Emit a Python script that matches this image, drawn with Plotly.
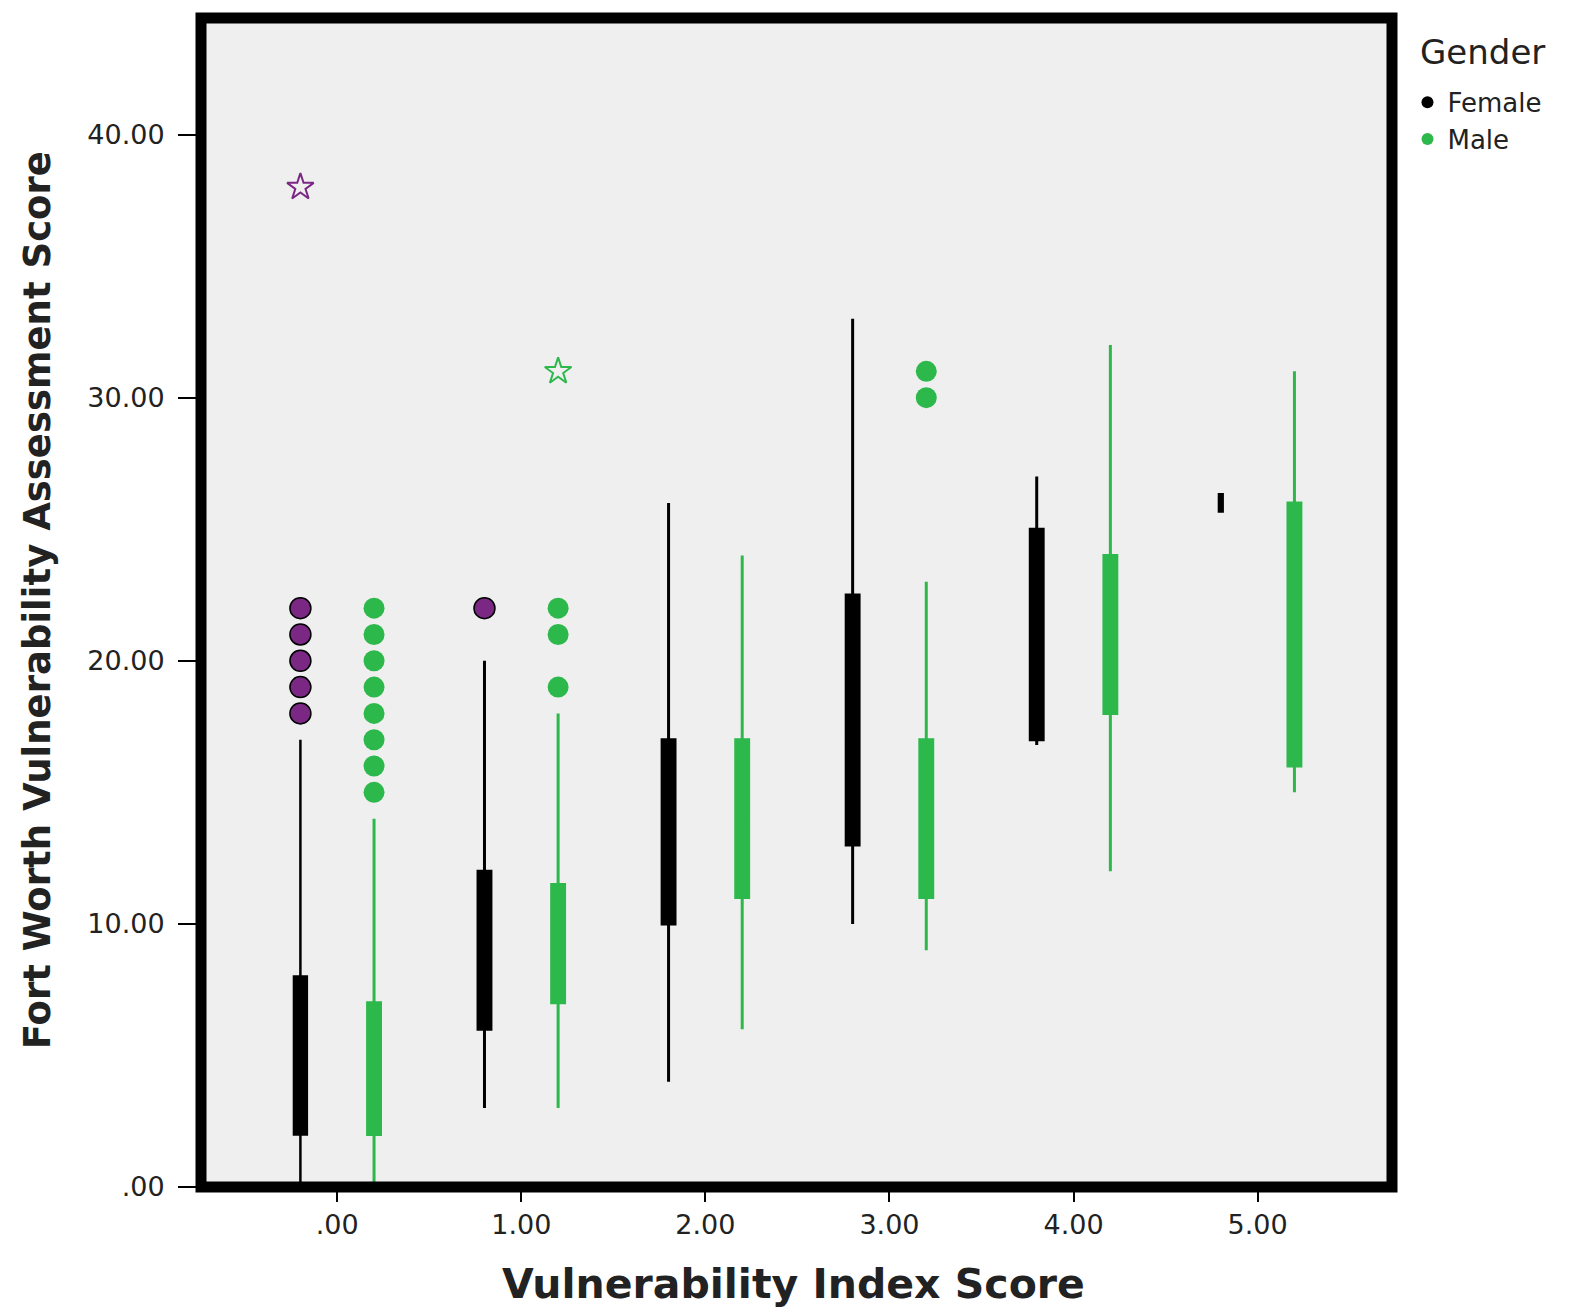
import plotly.graph_objects as go

# ---------------- data ----------------
categories = [0, 1, 2, 3, 4, 5]
x_tick_text = [".00", "1.00", "2.00", "3.00", "4.00", "5.00"]
y_tick_vals = [0, 10, 20, 30, 40]
y_tick_text = [".00", "10.00", "20.00", "30.00", "40.00"]

# Female box statistics (category 5 is a single case)
female_low = [0, 3, 4, 10, 16.8, 25.7]
female_q1 = [2, 6, 10, 13, 17, 25.7]
female_median = [4, 9, 13, 17, 21, 26]
female_q3 = [8, 12, 17, 22.5, 25, 26.3]
female_high = [17, 20, 26, 33, 27, 26.3]

# Male box statistics
male_low = [0, 3, 6, 9, 12, 15]
male_q1 = [2, 7, 11, 11, 18, 16]
male_median = [4, 9, 14, 14, 21, 21]
male_q3 = [7, 11.5, 17, 17, 24, 26]
male_high = [14, 18, 24, 23, 32, 31]

# Outliers (circles) and extremes (stars)
female_out_cat = [0, 0, 0, 0, 0, 1]
female_out_val = [18, 19, 20, 21, 22, 22]
female_ext_cat = [0]
female_ext_val = [38]
male_out_cat = [0, 0, 0, 0, 0, 0, 0, 0, 1, 1, 1, 3, 3]
male_out_val = [15, 16, 17, 18, 19, 20, 21, 22, 19, 21, 22, 30, 31]
male_ext_cat = [1]
male_ext_val = [31]

# ---------------- style ----------------
BLACK = "#000000"
GREEN = "#2DB84B"
PURPLE = "#7A2884"
BG = "#EFEFEF"
TXT = "#222222"
FONT = "DejaVu Sans"
OFF = 0.2

fig = go.Figure()

def add_box(pos, lo, q1, med, q3, hi, color, width=0.07, lw=3):
    fig.add_trace(go.Box(
        x=[pos], lowerfence=[lo], q1=[q1], median=[med], q3=[q3], upperfence=[hi],
        width=width, whiskerwidth=0, fillcolor=color,
        line=dict(color=color, width=lw), boxpoints=False,
        showlegend=False, hoverinfo="skip",
    ))

for i, c in enumerate(categories):
    if i == 5:
        add_box(c - OFF, female_low[i], female_q1[i], female_median[i], female_q3[i],
                female_high[i], BLACK, width=0.012, lw=4)
    else:
        add_box(c - OFF, female_low[i], female_q1[i], female_median[i], female_q3[i],
                female_high[i], BLACK, lw=3 if i > 0 else 2.5)
    add_box(c + OFF, male_low[i], male_q1[i], male_median[i], male_q3[i],
            male_high[i], GREEN, lw=3)

# outliers
fig.add_trace(go.Scatter(
    x=[c - OFF for c in female_out_cat], y=female_out_val, mode="markers",
    marker=dict(symbol="circle", size=21, color=PURPLE, line=dict(color=BLACK, width=1.5)),
    showlegend=False, hoverinfo="skip"))
fig.add_trace(go.Scatter(
    x=[c + OFF for c in male_out_cat], y=male_out_val, mode="markers",
    marker=dict(symbol="circle", size=21, color=GREEN, line=dict(width=0)),
    showlegend=False, hoverinfo="skip"))
fig.add_trace(go.Scatter(
    x=[c - OFF for c in female_ext_cat], y=female_ext_val, mode="markers",
    marker=dict(symbol="star-open", size=20, color=PURPLE, line=dict(color=PURPLE, width=2)),
    showlegend=False, hoverinfo="skip"))
fig.add_trace(go.Scatter(
    x=[c + OFF for c in male_ext_cat], y=male_ext_val, mode="markers",
    marker=dict(symbol="star-open", size=20, color=GREEN, line=dict(color=GREEN, width=2)),
    showlegend=False, hoverinfo="skip"))

# legend entries
fig.add_trace(go.Scatter(x=[None], y=[None], mode="markers", name="Female",
                         marker=dict(symbol="circle", size=12, color=BLACK)))
fig.add_trace(go.Scatter(x=[None], y=[None], mode="markers", name="Male",
                         marker=dict(symbol="circle", size=12, color=GREEN)))

# page body has an 8px margin, so the figure is sized/offset to compensate
fig.update_layout(
    width=1567, height=1300,
    margin=dict(l=193, r=183, t=10, b=121),
    paper_bgcolor="white", plot_bgcolor=BG,
    font=dict(family=FONT, color=TXT),
    showlegend=True,
    legend=dict(
        font=dict(size=26, color=TXT),
        x=1.013, y=0.948, xanchor="left", yanchor="top",
        bgcolor="rgba(0,0,0,0)", tracegroupgap=0, itemsizing="constant",
    ),
    xaxis=dict(
        range=[-0.74, 5.73], tickvals=categories, ticktext=x_tick_text,
        showgrid=False, zeroline=False, showline=False,
        ticks="outside", ticklen=14, tickwidth=2, tickcolor=BLACK,
        tickfont=dict(size=27, color=TXT), ticklabelstandoff=0,
    ),
    yaxis=dict(
        range=[0, 44.43], tickvals=y_tick_vals, ticktext=y_tick_text,
        showgrid=False, zeroline=False, showline=False,
        ticks="outside", ticklen=22, tickwidth=2, tickcolor=BLACK,
        tickfont=dict(size=27, color=TXT), ticklabelstandoff=8,
    ),
    shapes=[dict(type="rect", xref="paper", yref="paper", x0=0, x1=1, y0=0, y1=1,
                 line=dict(color=BLACK, width=11), layer="above")],
    annotations=[
        dict(text="Gender", xref="paper", yref="paper",
             x=1.0218, y=0.971, xanchor="left", yanchor="middle",
             showarrow=False, font=dict(size=34, color=TXT, family=FONT)),
        dict(text="<b>Vulnerability Index Score</b>", xref="paper", yref="paper",
             x=0.4976, y=0, yshift=-97, xanchor="center", yanchor="middle",
             showarrow=False, font=dict(size=41, color=TXT, family=FONT)),
        dict(text="<b>Fort Worth Vulnerability Assessment Score</b>", xref="paper", yref="paper",
             x=0, y=0.502, xshift=-164, xanchor="center", yanchor="middle", textangle=-90,
             showarrow=False, font=dict(size=37, color=TXT, family=FONT)),
    ],
)

fig.write_html("out.html")
